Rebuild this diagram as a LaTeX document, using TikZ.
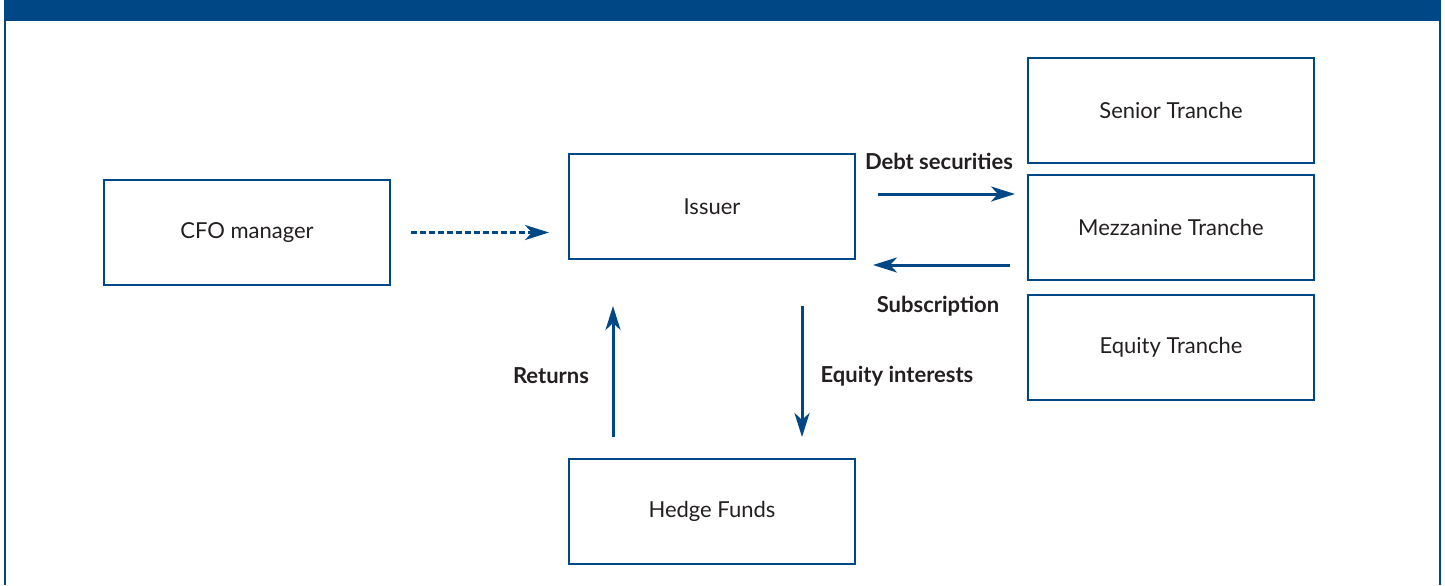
\documentclass[tikz,border=0pt]{standalone}
\usepackage{fontspec}
\setmainfont{Lato}
\usepackage{tikz}
\usetikzlibrary{calc}
\usetikzlibrary{arrows.meta}
\usetikzlibrary{positioning}

\definecolor{hdblue}{RGB}{0,71,133}
\definecolor{hdtext}{RGB}{35,31,32}

\tikzset{
    party/.style={draw=hdblue, line width=1pt, minimum width=143pt, minimum height=52.5pt,
                  font=\fontsize{11}{13}\selectfont, text=hdtext},
    flow/.style={draw=hdblue, line width=1.5pt, -{Stealth[length=12pt, width=7.5pt, inset=3.5pt]}},
    flowlabel/.style={font=\bfseries\fontsize{11}{13}\selectfont, text=hdtext}
}

\begin{document}
\begin{tikzpicture}[x=0.5pt, y=-0.5pt]
            \useasboundingbox (0,0) rectangle (1445,585);

            % Frame with title bar
            \fill[hdblue] (4,0) rectangle (1441,21);
            \draw[hdblue, line width=1pt] (5,21) -- (5,585);
            \draw[hdblue, line width=1pt] (1440,21) -- (1440,585);

            % Parties
            \node[party] (cfo) at (247,232.5) {CFO manager};
            \node[party] (issuer) at (712,206.5) {Issuer};
            \node[party] (hedge) at (712,511.5) {Hedge Funds};

            % Tranches
            \node[party] (senior) at (1171,110.5) {Senior Tranche};
            \node[party] (mezz) at (1171,227) {Mezzanine Tranche};
            \node[party] (equity) at (1171,347.5) {Equity Tranche};

            % Management link
            \draw[flow, dash pattern=on 3pt off 1.5pt] (cfo.east) -- (cfo.east -| issuer.west)
                [shorten <=10pt, shorten >=9.5pt];

            % Issuer <-> tranches
            \draw[flow] ($(issuer.east)+(22,-12.5)$) -- ($(mezz.west)+(-12,-33)$);
            \draw[flow] ($(mezz.west)+(-17,38)$) -- ($(issuer.east)+(17,58.5)$);
            \node[flowlabel] (debtlbl) at (939,161) {Debt securities};
            \node[flowlabel] (sublbl) at (938,306) {Subscription};

            % Issuer <-> hedge funds
            \draw[flow] ($(hedge.north)+(-99,-21)$) -- ($(issuer.south)+(-99,46)$);
            \draw[flow] ($(issuer.south)+(90,46)$) -- ($(hedge.north)+(90,-21)$);
            \node[flowlabel] (retlbl) at (551,376) {Returns};
            \node[flowlabel] (eqlbl) at (897,376) {Equity interests};
        \end{tikzpicture}
\end{document}
